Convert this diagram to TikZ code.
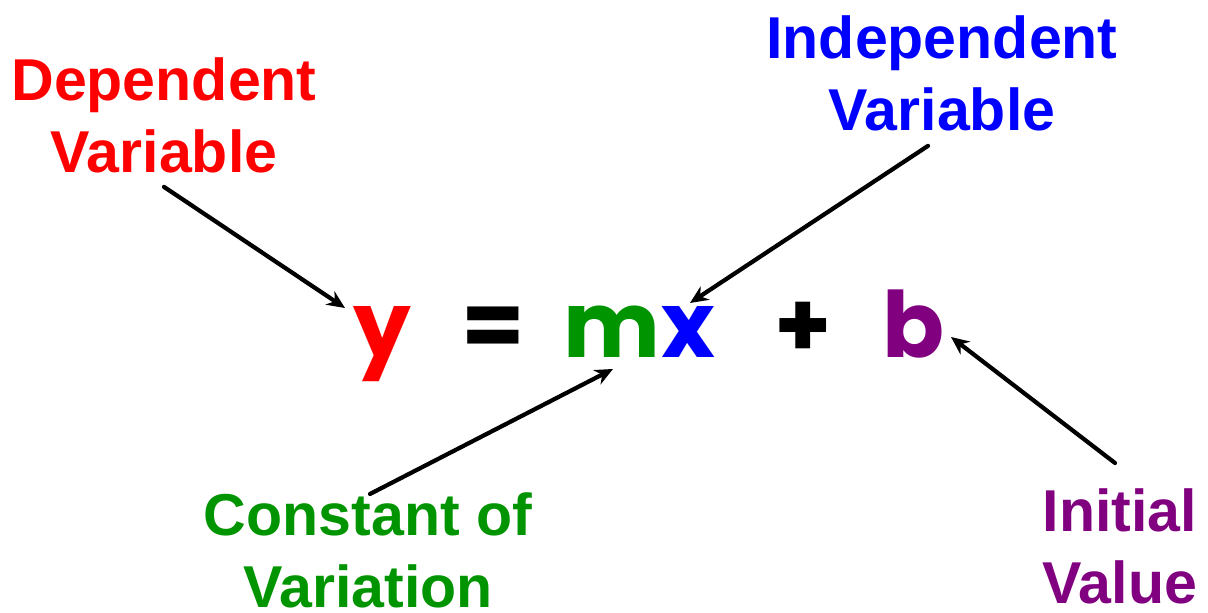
\documentclass[tikz,border=0pt]{standalone}
\usepackage{fontspec}
\setmainfont{Liberation Sans}
\newfontfamily\eqfont{Poppins}
\usetikzlibrary{arrows.meta}
\definecolor{depred}{RGB}{255,0,0}
\definecolor{indblue}{RGB}{0,0,255}
\definecolor{constgreen}{RGB}{0,148,0}
\definecolor{initpurple}{RGB}{128,0,128}
\tikzset{
  tagtext/.style={align=center, anchor=north, inner sep=0pt,
    font=\fontsize{16.8}{20.5}\selectfont\bfseries},
  sym/.style={anchor=base, inner sep=0pt,
    font=\eqfont\fontsize{26}{26}\selectfont\bfseries},
  pointer/.style={-{Stealth[length=0.18cm,width=0.16cm]}, line width=1.2pt, line cap=round},
}
\begin{document}
\begin{tikzpicture}[x=0.01cm,y=-0.01cm]
\useasboundingbox (0,0) rectangle (1208,613);
% the equation
\node[sym,depred] (ysym) at (382,358) {y};
\node[sym] (eqsym) at (493,358) {=};
\node[sym,constgreen] (msym) at (612,358) {m};
\node[sym,indblue] (xsym) at (688,358) {x};
\node[sym] (plussym) at (803,358) {+};
\node[sym,initpurple] (bsym) at (914,358) {b};
% the labels
\node[tagtext,depred] (dep) at (164,57) {Dependent\\Variable};
\node[tagtext,indblue] (indep) at (942,15) {Independent\\Variable};
\node[tagtext,constgreen] (const) at (368,492) {Constant of\\Variation};
\node[tagtext,initpurple] (init) at (1120,488) {Initial\\Value};
% where the arrows point
\coordinate (ytip) at (345,308);
\coordinate (xtip) at (690,303);
\coordinate (mtip) at (613,369);
\coordinate (btip) at (951,337);
\draw[pointer] ([yshift=-0.13cm]dep.south) -- (ytip);
\draw[pointer] ([shift={(-14,14)}]indep.south) -- (xtip);
\draw[pointer] ([shift={(2,2)}]const.north) -- (mtip);
\draw[pointer] ([shift={(-5,-25)}]init.north) -- (btip);
\end{tikzpicture}
\end{document}
